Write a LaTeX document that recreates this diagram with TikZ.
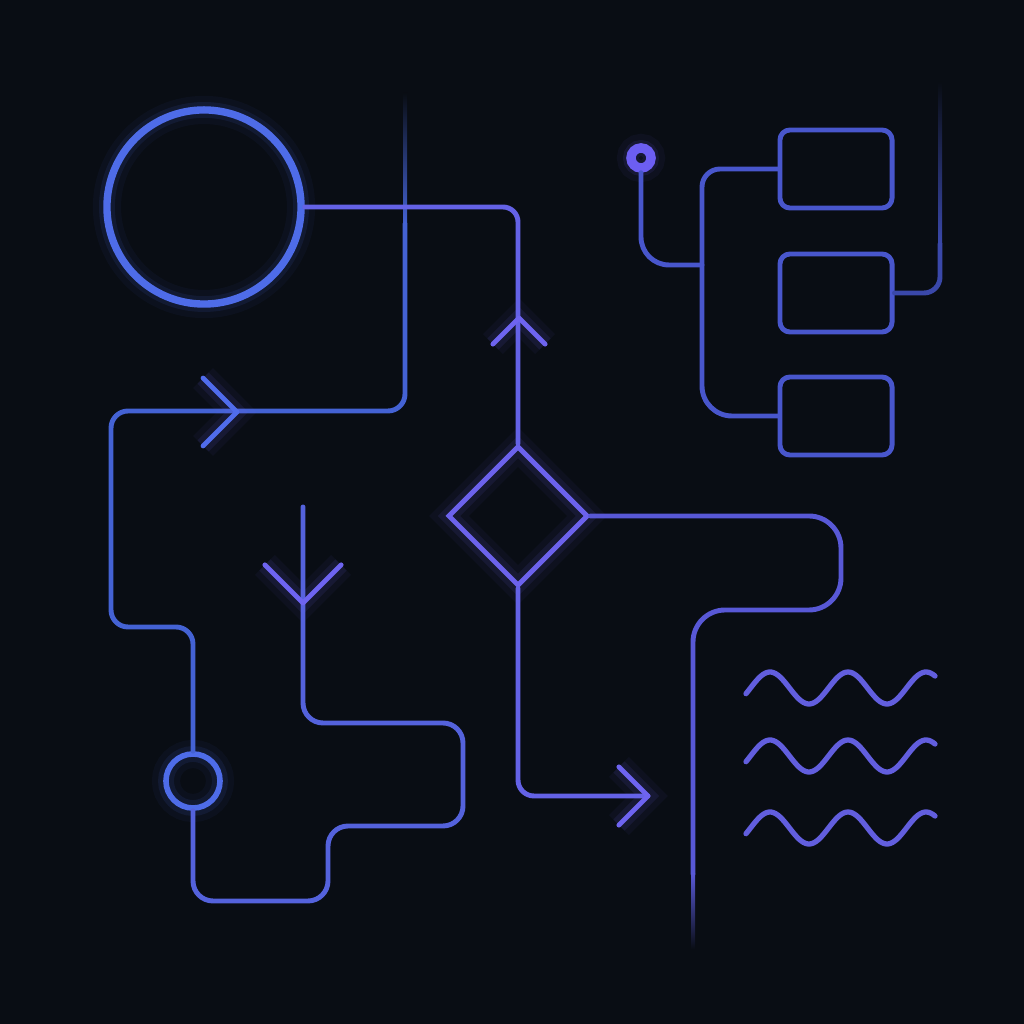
\documentclass[tikz,border=0pt]{standalone}
\usetikzlibrary{shapes.geometric,calc}
\definecolor{bg}{RGB}{9,13,20}
\definecolor{ringblue}{RGB}{78,108,232}
\definecolor{wblue}{RGB}{68,98,212}
\definecolor{wmix}{RGB}{84,98,220}
\definecolor{wviolet}{RGB}{100,98,230}
\definecolor{diaviolet}{RGB}{108,98,236}
\definecolor{wviolet2}{RGB}{88,88,214}
\definecolor{treeblue}{RGB}{72,86,204}
\definecolor{wdim}{RGB}{58,72,170}
\definecolor{dotviolet}{RGB}{108,94,242}
\definecolor{wavev}{RGB}{98,94,222}
\definecolor{chevv}{RGB}{110,100,240}
\definecolor{chevb}{RGB}{80,108,236}
\tikzset{
  wire/.style = {line width=1.4pt, line cap=round, line join=round},
  glow/.style = {preaction={draw=#1, line width=8pt, draw opacity=0.05},
                 preaction={draw=#1, line width=4.5pt, draw opacity=0.10}},
  big_ring/.style = {circle, draw=ringblue, line width=2.1pt, minimum size=1.94cm, inner sep=0pt, glow=ringblue},
  small_ring/.style = {circle, draw=ringblue, line width=1.6pt, minimum size=0.54cm, inner sep=0pt, glow=ringblue},
  dia_n/.style = {diamond, draw=diaviolet, line width=1.4pt, minimum size=1.40cm, inner sep=0pt, glow=diaviolet},
  dot_n/.style = {circle, draw=dotviolet, line width=2.7pt, minimum size=0.2cm, inner sep=0pt, glow=dotviolet},
  box_n/.style = {rectangle, rounded corners=0.1cm, draw=treeblue, line width=1.4pt, minimum width=1.12cm, minimum height=0.78cm, inner sep=0pt},
  chev/.pic = {\draw[wire, glow=chevv] (-30,30) -- (0,0) -- (-30,-30);}
}

\begin{document}
\begin{tikzpicture}[x=0.01cm, y=0.01cm]
\fill[bg] (0,0) rectangle (1024,1024);
\useasboundingbox (0,0) rectangle (1024,1024);

% shapes
\node[big_ring] (big) at (204,817) {};
\node[small_ring] (sm) at (193,243) {};
\node[dia_n] (dia) at (518,508) {};
\node[dot_n] (dot) at (641,866) {};
\node[box_n] (box1) at (836,855) {};
\node[box_n] (box2) at (836,731) {};
\node[box_n] (box3) at (836,608) {};

% free ends and joints
\coordinate (risetop) at (405,800);
\coordinate (falltop) at (303,517);
\coordinate (outtip) at (648,228);
\coordinate (drop) at (693,150);
\coordinate (trunk) at (702,759);
\coordinate (sidetop) at (940,780);

% left loop
\shade[top color=bg, bottom color=wblue] (403,800) rectangle (407,931);
\draw[wire, wblue, rounded corners=0.17cm] (risetop) |- (111,613) -- (111,397) -| (sm.north);
\draw[wire, wmix, rounded corners=0.2cm] (sm.south) |- (328,123) |- (463,198) |- (303,301) -- (falltop);
\draw[wire, wviolet, rounded corners=0.15cm] (big.east) -| (dia.north);

% diamond exits
\draw[wire, wviolet, rounded corners=0.16cm] (dia.south) |- (outtip);
\draw[wire, wviolet2, rounded corners=0.32cm] (dia.east) -| (841,414) -| (drop);
\shade[top color=wviolet2, bottom color=bg] (691,150) rectangle (695,75);

% tree
\draw[wire, treeblue] (box1.west) [rounded corners=0.18cm] -| (trunk) [rounded corners=0.3cm] |- (box3.west);
\draw[wire, treeblue, rounded corners=0.28cm] (dot.south) |- (trunk);
\draw[wire, wdim, rounded corners=0.16cm] (box2.east) -| (sidetop);
\shade[top color=bg, bottom color=wdim] (938,780) rectangle (942,942);

% chevrons
\pic[color=chevv, rotate=90, scale=0.87] at (519,706) {chev};
\pic[color=chevb, scale=1.13] at (237,612) {chev};
\pic[color=chevv, rotate=-90, scale=1.27] at (303,421) {chev};
\pic[color=chevv, scale=0.97] at (outtip) {chev};

% waves
\draw[wire, wavev, line width=1.5pt] plot[domain=746:935, samples=90, smooth] (\x, {336+16*cos((\x-770)/78*360)});
\draw[wire, wavev, line width=1.5pt] plot[domain=746:935, samples=90, smooth] (\x, {268+16*cos((\x-770)/78*360)});
\draw[wire, wavev, line width=1.5pt] plot[domain=746:935, samples=90, smooth] (\x, {196+16*cos((\x-770)/78*360)});
\end{tikzpicture}
\end{document}
